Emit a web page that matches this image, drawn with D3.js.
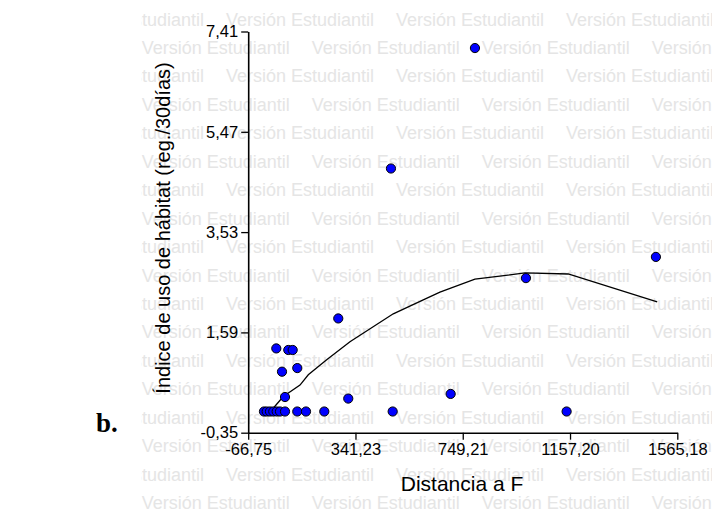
<!DOCTYPE html>
<html>
<head>
<meta charset="utf-8">
<script src="https://cdn.jsdelivr.net/npm/d3@7"></script>
<style>
  html, body { margin: 0; padding: 0; background: #fff; }
  svg { display: block; }
  text { font-family: "Liberation Sans", Arial, sans-serif; }
</style>
</head>
<body>
<svg id="chart" width="712" height="519"></svg>
<script>
// ---- data ----
const distanceF = [795.6, 476.2, 989.5, 1483.8, 275.8, 40.1, 85.7, 102.4, 61.8, 119.9, 73.2, 313.8, 703.2,
                   -6.7, 3.6, 16.1, 28.7, 41.6, 54.2, 73.2, 119.9, 153.0, 222.6, 482.7, 1144.2];
const habitatIndex = [7.09, 4.76, 2.64, 3.05, 1.86, 1.28, 1.25, 1.25, 0.83, 0.90, 0.34, 0.31, 0.40,
                      0.06, 0.06, 0.06, 0.06, 0.06, 0.06, 0.06, 0.06, 0.06, 0.06, 0.06, 0.06];
const smoothX = [3.6, 16.1, 66.7, 130.2, 161.8, 231.7, 320.3, 485.0, 599.0, 662.5, 795.6, 985.6, 1150.3, 1488.7];
const smoothY = [-0.02, 0.05, 0.35, 0.57, 0.77, 1.06, 1.41, 1.95, 2.22, 2.37, 2.62, 2.74, 2.72, 2.18];
const xTicks = [-66.75, 341.23, 749.21, 1157.20, 1565.18];
const yTicks = [-0.35, 1.59, 3.53, 5.47, 7.41];
const xTitle = "Distancia a F";
const yTitle = "Índice de uso de hábitat (reg./30días)";
const panelLabel = "b.";
const watermark = "Versión Estudiantil";

// ---- layout ----
const svg = d3.select("#chart");
const x = d3.scaleLinear().domain([xTicks[0], xTicks[4]]).range([248.2, 677.3]);
const y = d3.scaleLinear().domain([yTicks[0], yTicks[4]]).range([432.7, 31.5]);
const fmt = v => v.toFixed(2).replace(".", ",");

// watermark
svg.append("clipPath").attr("id", "wmclip")
  .append("rect").attr("x", 141.5).attr("y", 0).attr("width", 600).attr("height", 519);
const wm = svg.append("g").attr("clip-path", "url(#wmclip)");
for (let k = 0; k < 19; k++) {
  const by = 25.5 + 28.45 * k;
  const start = (k % 2 === 0 ? 226 : 141.7) - 170;
  for (let xx = start; xx < 712; xx += 170) {
    wm.append("text").attr("x", xx).attr("y", by)
      .attr("font-size", "18px").attr("fill", "#e5e5e5").text(watermark);
  }
}

// axes
const gx = svg.append("g").attr("transform", `translate(0,${y.range()[0]})`)
  .call(d3.axisBottom(x).tickValues(xTicks).tickFormat(fmt).tickSizeOuter(0).tickSizeInner(7).tickPadding(4));
const gy = svg.append("g").attr("transform", `translate(${x.range()[0]},0)`)
  .call(d3.axisLeft(y).tickValues(yTicks).tickFormat(fmt).tickSizeOuter(0).tickSizeInner(7).tickPadding(3));
[gx, gy].forEach(g => {
  g.selectAll("path.domain").attr("stroke", "#000").attr("stroke-width", 1.6);
  g.selectAll(".tick line").attr("stroke", "#000").attr("stroke-width", 1.3);
  g.selectAll(".tick text").attr("font-family", "'Liberation Sans', Arial, sans-serif")
    .attr("font-size", "16.5px").attr("fill", "#000");
});

// titles
svg.append("text").attr("x", 462).attr("y", 491).attr("text-anchor", "middle")
  .attr("font-size", "21px").attr("fill", "#000").text(xTitle);
svg.append("text").attr("transform", "translate(170,228) rotate(-90)").attr("text-anchor", "middle")
  .attr("font-size", "20px").attr("fill", "#000").text(yTitle);
svg.append("text").attr("x", 96).attr("y", 432)
  .style("font-family", "'Liberation Serif', 'Times New Roman', serif")
  .attr("font-weight", "bold").attr("font-size", "27px").attr("fill", "#000").text(panelLabel);

// smoothed line
const lineData = smoothX.map((v, i) => [v, smoothY[i]]);
svg.append("path").datum(lineData)
  .attr("fill", "none").attr("stroke", "#000").attr("stroke-width", 1.3)
  .attr("d", d3.line().x(d => x(d[0])).y(d => y(d[1])));

// points
const pts = distanceF.map((v, i) => [v, habitatIndex[i]]);
svg.append("g").selectAll("circle").data(pts).join("circle")
  .attr("cx", d => x(d[0])).attr("cy", d => y(d[1])).attr("r", 4.6)
  .attr("fill", "#0000ff").attr("stroke", "#000").attr("stroke-width", 1);
</script>
</body>
</html>
